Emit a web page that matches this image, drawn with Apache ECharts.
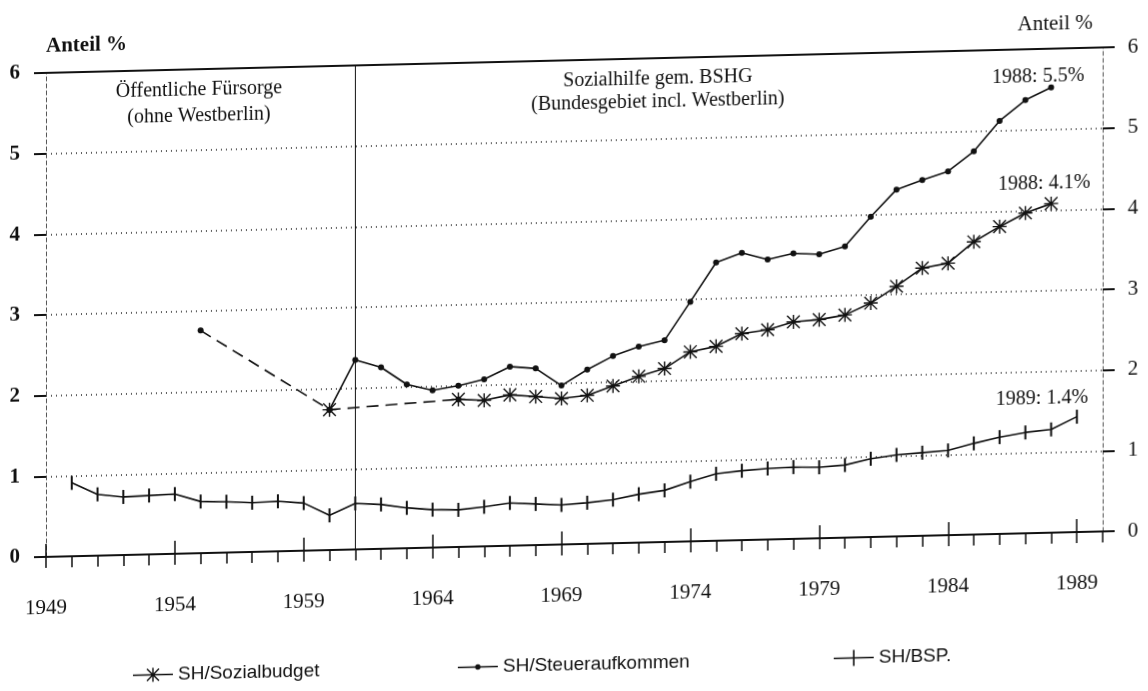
<!DOCTYPE html>
<html>
<head>
<meta charset="utf-8">
<title>Sozialhilfe Anteil</title>
<script src="https://cdn.jsdelivr.net/npm/echarts@6/dist/echarts.min.js"></script>
<style>
  html, body { margin: 0; padding: 0; background: #fff; overflow: hidden; }
  /* the scan is slightly sheared: right side sits higher */
  #chart { width: 1148px; height: 691px; transform: skewY(-1.38deg); transform-origin: 0 0; }
</style>
</head>
<body>
<div id="chart"></div>
<script>
// years on the x axis
const years = ['1949', '1950', '1951', '1952', '1953', '1954', '1955', '1956', '1957', '1958',
  '1959', '1960', '1961', '1962', '1963', '1964', '1965', '1966', '1967', '1968',
  '1969', '1970', '1971', '1972', '1973', '1974', '1975', '1976', '1977', '1978',
  '1979', '1980', '1981', '1982', '1983', '1984', '1985', '1986', '1987', '1988',
  '1989', '1990']

// SH/Sozialbudget (%)
const sozialbudget = [null, null, null, null, null, null, null, null, null, null,
  null, 1.74, null, null, null, null, 1.83, 1.81, 1.87, 1.84,
  1.81, 1.84, 1.95, 2.06, 2.15, 2.35, 2.41, 2.56, 2.60, 2.69,
  2.71, 2.76, 2.90, 3.10, 3.32, 3.37, 3.63, 3.81, 3.97, 4.08,
  null, null]

// SH/Steueraufkommen (%)
const steuer = [null, null, null, null, null, null, null, null, null, null,
  null, 1.74, 2.35, 2.25, 2.03, 1.95, 2.00, 2.07, 2.22, 2.19,
  1.97, 2.16, 2.32, 2.43, 2.50, 2.97, 3.45, 3.56, 3.47, 3.54,
  3.52, 3.61, 3.97, 4.30, 4.41, 4.51, 4.75, 5.12, 5.37, 5.52,
  null, null]

// SH/BSP. (%)
const bsp = [null, 0.91, 0.76, 0.72, 0.73, 0.74, 0.64, 0.63, 0.61, 0.62,
  0.59, 0.43, 0.57, 0.55, 0.50, 0.47, 0.46, 0.49, 0.53, 0.51,
  0.49, 0.51, 0.54, 0.60, 0.64, 0.74, 0.83, 0.86, 0.88, 0.89,
  0.88, 0.90, 0.97, 1.01, 1.03, 1.05, 1.13, 1.20, 1.25, 1.28,
  1.43, null]

// Öffentliche Fürsorge (dashed link, before BSHG)
const fuersorge = [null, null, null, null, null, null, 2.76, null, null, null,
  null, 1.74, null, null, null, null, 1.83, null, null, null,
  null, null, null, null, null, null, null, null, null, null,
  null, null, null, null, null, null, null, null, null, null,
  null, null]

const yTicks = [0, 1, 2, 3, 4, 5, 6]
const bshgStart = '1961'

const serif = 'Liberation Serif'
const sans = 'Liberation Sans'
const ink = '#111'

// chart symbols
const asterisk = 'path://M9 0H11V20H9Z M0 9H20V11H0Z M0.3 1.7L1.7 0.3L19.7 18.3L18.3 19.7Z M18.3 0.3L19.7 1.7L1.7 19.7L0.3 18.3Z'
const bar = 'path://M0 0H1V10H0Z'

// legend icons: line with the marker in the middle (40 x 20 box)
const legendLine = 'M0 9.2H40V10.8H0Z '
const iconSozial = 'path://' + legendLine +
  'M19.3 3H20.7V17H19.3Z M13 9.3H27V10.7H13Z M13.5 4.5L14.5 3.5L26.5 15.5L25.5 16.5Z M25.5 3.5L26.5 4.5L14.5 16.5L13.5 15.5Z'
const iconSteuer = 'path://' + legendLine + 'M17.3 10A2.7 2.7 0 1 1 22.7 10A2.7 2.7 0 1 1 17.3 10Z'
const iconBsp = 'path://' + legendLine + 'M19.2 2H20.8V18H19.2Z'

// put a "year: value%" label on the last point of a series
function withEndLabel(values, offset) {
  let last = -1
  values.forEach((v, i) => { if (v != null) last = i })
  return values.map((v, i) => i !== last ? v : {
    value: v,
    label: {
      show: true, position: 'top', offset: offset,
      formatter: years[i] + ': ' + v.toFixed(1) + '%',
      fontFamily: serif, fontSize: 20, color: ink
    }
  })
}

const myChart = echarts.init(document.getElementById('chart'), null, { renderer: 'canvas' })

const lineStyle = { color: ink, width: 1.6 }

// one legend per item, the scan has them spread out
function legendFor(name, icon, left) {
  return {
    data: [{ name: name, icon: icon }], left: left, top: 664, selectedMode: false,
    itemWidth: 40, itemHeight: 20, symbolKeepAspect: true,
    itemStyle: { color: ink, borderWidth: 0 },
    textStyle: { fontFamily: sans, fontSize: 19, color: ink }
  }
}

const option = {
  animation: false,
  grid: { left: 46, right: 45, top: 74, bottom: 133 },
  xAxis: [
    {
      type: 'category', data: years, boundaryGap: false, position: 'bottom',
      axisLine: { lineStyle: { color: ink, width: 2 } },
      axisTick: { interval: 0, length: 11, lineStyle: { color: ink, width: 1.5 } },
      axisLabel: { interval: 4, margin: 41, color: ink, fontFamily: serif, fontSize: 21 },
      splitLine: { show: false }
    },
    {
      type: 'category', data: years, boundaryGap: false, position: 'bottom', offset: 0,
      axisLine: { show: false },
      axisTick: { interval: 4, inside: true, length: 13, lineStyle: { color: ink, width: 1.5 } },
      axisLabel: { show: false },
      splitLine: { show: false }
    },
    {
      type: 'category', data: years, boundaryGap: false, position: 'top',
      axisLine: { lineStyle: { color: ink, width: 2 } },
      axisTick: { show: false },
      axisLabel: { show: false },
      splitLine: { show: false }
    }
  ],
  yAxis: [
    {
      type: 'value', min: yTicks[0], max: yTicks[yTicks.length - 1], interval: 1, position: 'left',
      name: 'Anteil %', nameLocation: 'end', nameGap: 16,
      nameTextStyle: { align: 'left', fontFamily: serif, fontSize: 21, fontWeight: 'bold', color: ink },
      axisLine: { show: true, lineStyle: { type: [4, 3], color: '#555', width: 1 } },
      axisTick: { show: true, length: 12, lineStyle: { color: ink, width: 2 } },
      axisLabel: { margin: 26, fontFamily: serif, fontSize: 21, fontWeight: 'bold', color: ink },
      splitLine: { show: true, lineStyle: { type: [1, 4], color: '#222', width: 1.5 } }
    },
    {
      type: 'value', min: yTicks[0], max: yTicks[yTicks.length - 1], interval: 1, position: 'right',
      name: 'Anteil %', nameLocation: 'end', nameGap: 14,
      nameTextStyle: { align: 'right', padding: [0, 10, 0, 0], fontFamily: serif, fontSize: 21, color: ink },
      axisLine: { show: true, lineStyle: { type: [4, 3], color: '#555', width: 1 } },
      axisTick: { show: true, length: 12, lineStyle: { color: ink, width: 2 } },
      axisLabel: { margin: 25, fontFamily: serif, fontSize: 21, color: ink },
      splitLine: { show: false }
    }
  ],
  legend: [
    legendFor('SH/Sozialbudget', iconSozial, 128),
    legendFor('SH/Steueraufkommen', iconSteuer, 453),
    legendFor('SH/BSP.', iconBsp, 829)
  ],
  graphic: [
    { type: 'text', x: 199, y: 95, style: { text: 'Öffentliche Fürsorge', align: 'center', verticalAlign: 'middle', font: '20px "Liberation Serif"', fill: ink } },
    { type: 'text', x: 199, y: 121, style: { text: '(ohne Westberlin)', align: 'center', verticalAlign: 'middle', font: '20px "Liberation Serif"', fill: ink } },
    { type: 'text', x: 658, y: 95, style: { text: 'Sozialhilfe gem. BSHG', align: 'center', verticalAlign: 'middle', font: '20px "Liberation Serif"', fill: ink } },
    { type: 'text', x: 658, y: 118, style: { text: '(Bundesgebiet incl. Westberlin)', align: 'center', verticalAlign: 'middle', font: '20px "Liberation Serif"', fill: ink } }
  ],
  series: [
    {
      name: 'Öffentliche Fürsorge', type: 'line', data: fuersorge, connectNulls: true,
      symbol: 'circle', symbolSize: 6, showAllSymbol: true,
      lineStyle: { color: ink, width: 1.6, type: [12, 7] },
      itemStyle: { color: ink },
      markLine: {
        silent: true, symbol: 'none', label: { show: false },
        lineStyle: { color: ink, width: 1, type: 'solid' },
        data: [{ xAxis: bshgStart }]
      }
    },
    {
      name: 'SH/Steueraufkommen', type: 'line', data: withEndLabel(steuer, [-13, 7]),
      symbol: 'circle', symbolSize: 6, showAllSymbol: true,
      lineStyle: lineStyle, itemStyle: { color: ink }
    },
    {
      name: 'SH/Sozialbudget', type: 'line', data: withEndLabel(sozialbudget, [-7, 2]),
      symbol: asterisk, symbolSize: 14, showAllSymbol: true,
      lineStyle: lineStyle, itemStyle: { color: ink }
    },
    {
      name: 'SH/BSP.', type: 'line', data: withEndLabel(bsp, [-35, 3]),
      symbol: bar, symbolSize: [2, 14], showAllSymbol: true,
      lineStyle: lineStyle, itemStyle: { color: ink }
    }
  ]
}

myChart.setOption(option, true)
window.addEventListener('resize', () => myChart.resize())
</script>
</body>
</html>
